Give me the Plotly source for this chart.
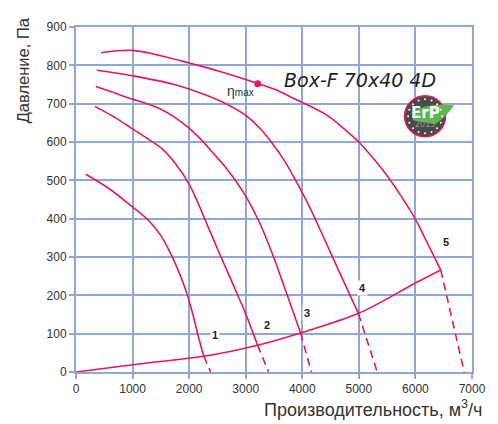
import math
import plotly.graph_objects as go

RED = "#e8185a"
GRID = "#8ea8dc"

# Fan curves (solid parts) and their dashed continuations
c1_x = [173, 588, 985, 1279, 1504, 1676, 1815, 1930, 2020, 2100, 2170, 2258]
c1_y = [516, 478, 432, 396, 355, 308, 262, 218, 175, 130, 88, 41]
c1d_x = [2258, 2380]
c1d_y = [41, 0]

c2_x = [334, 700, 990, 1250, 1509, 1750, 1999, 2150, 2316, 2546, 2777, 3007, 3209]
c2_y = [693, 663, 635, 610, 584, 545, 490, 443, 385, 306, 228, 149, 70]
c2d_x = [3209, 3405]
c2d_y = [70, 0]

c3_x = [351, 700, 990, 1250, 1509, 1760, 1999, 2220, 2431, 2610, 2777, 2995, 3237, 3467, 3699, 3970]
c3_y = [745, 727, 712, 700, 685, 663, 636, 605, 570, 540, 508, 460, 392, 310, 215, 102]
c3d_x = [3970, 4160]
c3d_y = [102, 0]

c4_x = [368, 990, 1739, 2316, 2700, 2995, 3250, 3469, 3680, 3871, 4130, 4390, 4735, 4991]
c4_y = [787, 773, 750, 721, 696, 670, 636, 597, 552, 503, 430, 347, 235, 153]
c4d_x = [4991, 5325]
c4d_y = [153, 0]

c5_x = [444, 1000, 1500, 2000, 2500, 3000, 3500, 3871, 4447, 4750, 5000, 5250, 5500, 5750, 6000, 6200, 6448]
c5_y = [833, 839, 825, 806, 786, 763, 738, 712, 669, 633, 600, 558, 512, 458, 398, 340, 266]
c5d_x = [6448, 6862]
c5d_y = [266, 0]

# System (network) curve
sys_x = [0, 1106, 2258, 3209, 3970, 4991, 6000, 6448]
sys_y = [0, 21, 41, 70, 102, 153, 232, 266]

# eta max point
eta_x = [3212]
eta_y = [752]

# curve labels
lab_text = ["1", "2", "3", "4", "5"]
lab_x = [2450, 3380, 4085, 5060, 6545]
lab_y = [97, 122, 153, 220, 339]

fig = go.Figure()

for xs, ys in [(c1_x, c1_y), (c2_x, c2_y), (c3_x, c3_y), (c4_x, c4_y), (c5_x, c5_y), (sys_x, sys_y)]:
    fig.add_trace(go.Scatter(x=xs, y=ys, mode="lines",
                             line=dict(color=RED, width=1.6, shape="spline", smoothing=1.0),
                             hoverinfo="skip", showlegend=False))
for xs, ys in [(c1d_x, c1d_y), (c2d_x, c2d_y), (c3d_x, c3d_y), (c4d_x, c4d_y), (c5d_x, c5d_y)]:
    fig.add_trace(go.Scatter(x=xs, y=ys, mode="lines",
                             line=dict(color=RED, width=1.6, dash="8px,5px"),
                             hoverinfo="skip", showlegend=False))

fig.add_trace(go.Scatter(x=eta_x, y=eta_y, mode="markers",
                         marker=dict(color=RED, size=7), hoverinfo="skip", showlegend=False))

annotations = []
for t, lx, ly in zip(lab_text, lab_x, lab_y):
    annotations.append(dict(x=lx, y=ly, xref="x", yref="y", text="<b>" + t + "</b>", showarrow=False,
                            bgcolor="white", borderpad=1,
                            font=dict(family="Liberation Sans", size=11, color="#222")))

annotations += [
    dict(x=2640, y=733, xref="x", yref="y", text="η<span style='font-size:10px'>max</span>",
         showarrow=False, xanchor="left", yanchor="middle",
         font=dict(family="Liberation Sans", size=14, color="#333")),
    dict(x=5012, y=762, xref="x", yref="y", text="<i>Box-F 70x40 4D</i>", showarrow=False,
         xanchor="center", yanchor="middle",
         font=dict(family="DejaVu Sans", size=19, color="#222")),
    dict(x=-0.1333, y=0.875, xref="paper", yref="paper", text="Давление, Па", showarrow=False,
         textangle=-90, xanchor="center", yanchor="middle",
         font=dict(family="Liberation Sans", size=16.5, color="#333")),
    dict(x=0.751, y=-0.105, xref="paper", yref="paper", text="Производительность, м<sup>3</sup>/ч",
         showarrow=False, xanchor="center", yanchor="middle",
         font=dict(family="Liberation Sans", size=18, color="#333")),
]

# ErP logo (decorative) anchored at data coords, pixel sizes
ax_, ay_ = 6170, 667
shapes = [
    dict(type="circle", xref="x", yref="y", xsizemode="pixel", ysizemode="pixel",
         xanchor=ax_, yanchor=ay_, x0=-20.5, x1=20.5, y0=-20.5, y1=20.5,
         fillcolor="#4a4a4a", line=dict(color=RED, width=1.5), layer="above"),
    dict(type="path", xref="x", yref="y", xsizemode="pixel", ysizemode="pixel",
         xanchor=ax_, yanchor=ay_,
         path="M -13,4 Q 0,14 29,11 Q 20,-2 10,-8 L -12,-4 Z",
         fillcolor="#5cb84a", line=dict(width=0), layer="above"),
]
for k in range(16):
    a = 2 * math.pi * k / 16
    cx, cy = 17 * math.cos(a), 17 * math.sin(a)
    shapes.append(dict(type="circle", xref="x", yref="y", xsizemode="pixel", ysizemode="pixel",
                       xanchor=ax_, yanchor=ay_, x0=cx - 1, x1=cx + 1, y0=cy - 1, y1=cy + 1,
                       fillcolor="white", line=dict(width=0), layer="above"))
annotations.append(dict(x=ax_, y=ay_, xref="x", yref="y", yshift=3, text="<b>ErP</b>", showarrow=False,
                        font=dict(family="DejaVu Sans", size=15, color="white")))
annotations.append(dict(x=ax_, y=ay_, xref="x", yref="y", yshift=-8, text="2015", showarrow=False,
                        font=dict(family="DejaVu Sans", size=8, color="#9a9a9a")))

axis_common = dict(showgrid=True, gridcolor=GRID, gridwidth=1.5,
                   showline=True, linecolor=GRID, linewidth=2, mirror=True, zeroline=False,
                   ticks="outside", ticklen=5, tickcolor=GRID, tickwidth=1.5,
                   tickfont=dict(family="Liberation Sans", size=12, color="#333"))

fig.update_layout(
    width=490, height=416,
    margin=dict(l=68, r=17, t=12, b=52),
    paper_bgcolor="white", plot_bgcolor="white",
    shapes=shapes, annotations=annotations,
    xaxis=dict(range=[0, 7000], dtick=1000, **axis_common),
    yaxis=dict(range=[0, 900], dtick=100, **axis_common),
)

fig.write_html("out.html")
